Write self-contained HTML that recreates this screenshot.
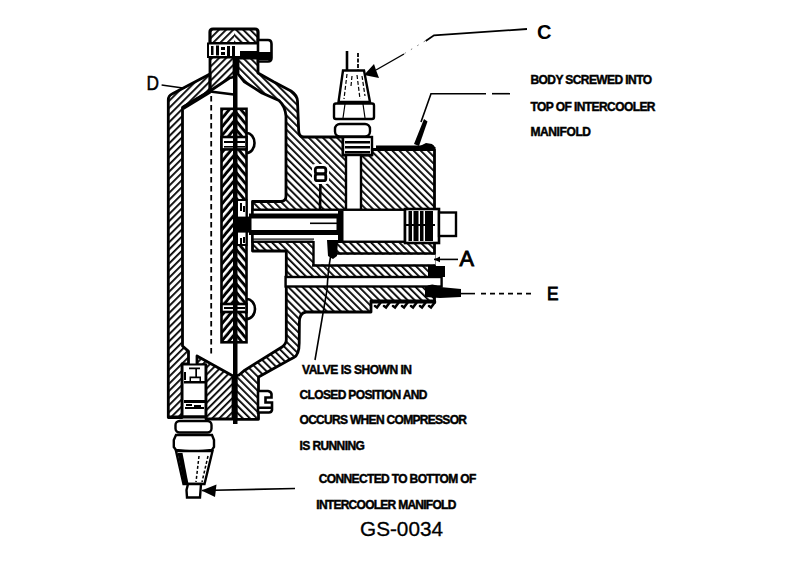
<!DOCTYPE html>
<html><head><meta charset="utf-8">
<style>
html,body{margin:0;padding:0;background:#fff;}
svg{display:block;}
text{font-family:"Liberation Sans",sans-serif;fill:#000;}
.t{font-weight:bold;font-size:12px;stroke:#000;stroke-width:0.45px;}
.L{font-weight:bold;stroke:#000;stroke-width:0.6px;}
</style></head>
<body>
<svg width="800" height="561" viewBox="0 0 800 561">
<defs>
<pattern id="hb" width="5" height="5" patternUnits="userSpaceOnUse" patternTransform="rotate(-45)">
<rect x="0" y="0" width="1.8" height="5" fill="#000"/></pattern>
<pattern id="hs" width="5" height="5" patternUnits="userSpaceOnUse" patternTransform="rotate(45)">
<rect x="0" y="0" width="1.8" height="5" fill="#000"/></pattern>
<pattern id="wb" width="5.5" height="5.5" patternUnits="userSpaceOnUse" patternTransform="rotate(-40)">
<rect x="0" y="0" width="5.5" height="5.5" fill="#000"/><rect x="0" y="0" width="2.6" height="5.5" fill="#fff"/></pattern>
<pattern id="ws" width="5.5" height="5.5" patternUnits="userSpaceOnUse" patternTransform="rotate(40)">
<rect x="0" y="0" width="5.5" height="5.5" fill="#000"/><rect x="0" y="0" width="2.6" height="5.5" fill="#fff"/></pattern>
</defs>
<rect width="800" height="561" fill="#fff"/>

<!-- ============ HOUSING ============ -->
<g stroke="#000" stroke-width="2.8" stroke-linejoin="round">
<!-- right wall + body (\ hatch) -->
<path d="M238,58 L258,58 L258,73 L274,82 L291,91 Q297,95 297.5,101 L298.7,131 Q299,137 304,137 L343,137 L343,155 L372,155 L372,149.5 L434.5,149.5 L434.5,301 L371,301 L371,312 L306,312 Q299.4,313 299.4,322 L299.2,343 Q299.2,355 293.8,357.5 L289,360 L258.5,377 L258.5,419.3 L236,419.3 L236,376 L239,375 L244.8,370.2 L282,347 Q286.3,344 286.3,339.8 L286.3,251 L252.5,251 L252.5,201.5 L281,201.5 Q286,201 286,196 L286,116 Q285,106 279,100.5 L262,93 L244,81.5 L238,74 Z" fill="url(#hb)"/>
<!-- left wall (/ hatch) -->
<path d="M168.3,417.5 L168.3,100 Q168.5,95.5 172,94 L210,74 L210,91 L182.5,107.5 L182.5,346 L188.5,351.4 L188.5,364 L182,364 L182,417.5 Z" fill="url(#hs)"/>
<!-- neck left -->
<path d="M210,57 L234,57 L234,77 L229.5,78 L210,91 Z" fill="url(#hs)"/>
<path d="M183,108 L210,91.5" stroke-width="4"/>
<!-- lower-left hatched block -->
<path d="M197,356 L233,376 L233,419 L206,419 L206,365 L197,365 Z" fill="url(#hs)"/>
<!-- cap -->
<path d="M210,43.5 L210,32 Q210,29 213,29 L234,29 L234,43.5 Z" fill="url(#hs)" stroke="none"/>
<path d="M234,29 L255,29 Q258,29 258,32 L258,43.5 L234,43.5 Z" fill="url(#hb)" stroke="none"/>
<path d="M210,43.5 L210,32 Q210,29 213,29 L255,29 Q258,29 258,32 L258,43.5 Z" fill="none" stroke-width="3.2"/>
</g>
<!-- fitting inside lower left -->
<rect x="182.5" y="364.5" width="23" height="52" fill="#fff" stroke="#000" stroke-width="2"/>
<path d="M168,417 L206,417" stroke="#000" stroke-width="3"/>
<g fill="#000">
<rect x="184" y="381" width="21" height="2.5"/>
<rect x="184" y="400" width="21" height="3"/>
<rect x="185" y="407" width="19" height="2"/>
<path d="M189,367.5 L200,367.5 L200,369.3 L197,369.3 L197,376.5 L201,376.5 L201,382 L199.5,382 L199.5,378.2 L191,378.2 L191,382 L189.5,382 L189.5,376.5 L195.3,376.5 L195.3,369.3 L189,369.3 Z"/>
<rect x="184" y="372" width="2" height="8"/>
<rect x="186" y="404" width="6" height="2"/><rect x="194" y="405" width="7" height="2"/>
</g>

<!-- thread band at top -->
<rect x="208" y="43.5" width="50" height="13.5" fill="#fff" stroke="#000" stroke-width="2"/>
<rect x="240" y="51" width="18" height="6" fill="#000"/>
<g fill="#000">
<rect x="211" y="46" width="2.5" height="9"/><rect x="216" y="45.5" width="3" height="10"/>
<rect x="221" y="47" width="4" height="3"/><rect x="221" y="52" width="4" height="3"/>
<rect x="227" y="46" width="3" height="10"/><rect x="232" y="46" width="3" height="10"/>
</g>
<path d="M258,40 L268,40 Q271.5,40 271.5,44 L271.5,58 Q271.5,61.5 268,61.5 L258,61.5 Z" fill="#fff" stroke="#000" stroke-width="2.6"/>
<rect x="259" y="52" width="12" height="8" fill="#000"/>

<!-- ============ BODY CHANNELS ============ -->
<g stroke="#000" stroke-width="2.4">
<rect x="343" y="137" width="29" height="18" fill="#fff"/>
<rect x="346" y="155" width="15" height="56" fill="#fff"/>
<rect x="252.5" y="209.75" width="152.5" height="32" fill="#fff"/>
</g>
<g fill="#000">
<rect x="345" y="141" width="25" height="2.5"/><rect x="345" y="146" width="25" height="2.5"/><rect x="345" y="151" width="25" height="2.5"/>
</g>
<!-- stem -->
<rect x="249" y="213.5" width="91" height="21.5" fill="#000"/>
<rect x="251.5" y="218.5" width="85" height="11.5" fill="#fff"/>
<rect x="252" y="238.5" width="62" height="1.2" fill="#000"/>
<!-- recess + A channel + E channel -->
<rect x="313.5" y="240" width="15" height="24.5" fill="#fff"/>
<rect x="328" y="254.5" width="107.5" height="10.25" fill="#fff"/>
<line x1="313.5" y1="241" x2="313.5" y2="265" stroke="#000" stroke-width="2.4"/>
<line x1="312" y1="265.5" x2="435" y2="265.5" stroke="#000" stroke-width="2.4"/>
<line x1="336" y1="253.5" x2="435" y2="253.5" stroke="#000" stroke-width="2.6"/>
<rect x="285.6" y="277" width="156" height="9.5" fill="#fff" stroke="#000" stroke-width="2.4"/>
<!-- valve blob -->
<path d="M327,240 L338,240 L337,256 L333,259 L328,256 Z" fill="#000"/>

<!-- valve spring element -->
<rect x="405" y="209" width="34" height="34" fill="#fff" stroke="#000" stroke-width="2.6"/>
<g fill="#000">
<rect x="408.5" y="211" width="3.5" height="30"/><rect x="413.5" y="211" width="5" height="30"/>
<rect x="420" y="211" width="3.5" height="30"/><rect x="425" y="211" width="8" height="30"/>
<rect x="405" y="224" width="30" height="2" />
</g>
<rect x="439" y="212.5" width="17" height="23.5" fill="#fff" stroke="#000" stroke-width="2.4"/>

<!-- right ends dark -->
<path d="M428,266 L445,266 L445,277 L428,277 Z" fill="#000"/>
<path d="M425,287 Q432,282 440,287 L461,289 L461,297 L440,298 L425,297 Z" fill="#000"/>
<!-- thread teeth under body -->
<g stroke="#000" stroke-width="2.6" fill="none" stroke-linecap="round">
<path d="M381,302 L377,307.5 L375,306"/>
<path d="M390,302 L386,307.5 L384,306"/>
<path d="M399,302 L395,307.5 L393,306"/>
<path d="M408,302 L404,307.5 L402,306"/>
<path d="M417,302 L413,307.5 L411,306"/>
<path d="M426,302 L422,307.5 L420,306"/>
<path d="M435,302 L431,307.5 L429,306"/>
</g>
<rect x="372" y="300" width="64" height="3.5" fill="#000"/>

<!-- ============ DIAPHRAGM STACK ============ -->
<g stroke="#000" stroke-width="2.6">
<rect x="221.5" y="108.8" width="13" height="233.5" fill="url(#ws)"/>
<rect x="234.5" y="108.8" width="12" height="233.5" fill="url(#wb)"/>
<rect x="221.5" y="137" width="25" height="12.4" fill="#fff"/>
<rect x="237" y="200" width="9.5" height="45" fill="#fff" stroke-width="2"/>
<rect x="221.5" y="304" width="25" height="8" fill="#fff"/>
<path d="M246.5,133 A8,10 0 0 1 246.5,153" fill="none"/>
<path d="M246.5,299 A8.5,10 0 0 1 246.5,319" fill="none"/>
</g>
<g fill="#000">
<rect x="224" y="141" width="21" height="2"/><rect x="224" y="146" width="21" height="1.6"/>
<rect x="224" y="307" width="21" height="2"/>
<rect x="240" y="203" width="2" height="8"/><rect x="243" y="206" width="2" height="6"/>
<rect x="240" y="238" width="2" height="6"/><rect x="243" y="237" width="2" height="6"/>
</g>
<rect x="236" y="216.6" width="13" height="16" fill="#000"/>
<!-- rod -->
<rect x="233" y="57" width="4.5" height="367" fill="#000"/>
<!-- dashed line -->
<line x1="211.2" y1="96" x2="211.2" y2="356" stroke="#000" stroke-width="1.8" stroke-dasharray="5.5,3.5"/>

<!-- ============ BOTTOM FITTING ============ -->
<g stroke="#000" stroke-width="2.4" fill="#fff">
<rect x="175.5" y="421" width="36" height="11.5" rx="4"/>
<path d="M173.8,440 L176,435 L212,435 L214,440 L214,447 L212,450 Q194,453 176,450 L173.8,447 Z"/>
<path d="M176,451 L212.5,451 L204.5,484 L183.5,484 Z"/>
<path d="M188,484 L201,484 L200,497.5 L187,497.5 L186.5,490 Z"/>
</g>
<path d="M177.5,453 L182.5,453 L188.5,484 L184,484 Z" fill="#000"/>
<path d="M199,456 L196,482 M208,456 L202,482" stroke="#000" stroke-width="1.5" stroke-dasharray="3,2" fill="none"/>
<!-- bottom bolt on right -->
<path d="M258,391 L268,391 Q271,391.5 271.5,394 L271.5,397.5 L265.5,397.5 L265.5,402.5 L272,402.5 L272,410 Q271.5,412.5 269,412.5 L258,412.5 Z" fill="#fff" stroke="#000" stroke-width="2.6"/>
<rect x="259" y="406.5" width="12" height="2.5" fill="#000"/>

<!-- ============ TOP SENSOR ============ -->
<g stroke="#000" stroke-width="2.4" fill="#fff">
<line x1="347" y1="51" x2="347" y2="71" stroke-width="2.6"/>
<line x1="358" y1="53" x2="358" y2="71" stroke-width="1.8" stroke-dasharray="4,1.5"/>
<path d="M343,70.5 L364,70.5 L370,102 L338.5,102 Z"/>
<rect x="334" y="103.5" width="40" height="15.5" rx="2"/>
<rect x="335" y="124" width="35" height="12.5" rx="5"/>
</g>
<g stroke="#000" stroke-width="1.2" fill="none">
<path d="M347,74 L344,99 M352,76 L351,86 M357,75 L360,99 M362,76 L365,96" stroke-dasharray="4,2"/>
<path d="M345,104 L343,118 M363,104 L365,118"/>
</g>
<rect x="338" y="211" width="5.5" height="32" fill="#000"/>
<rect x="310" y="222.5" width="27" height="1.6" fill="#000"/>

<!-- body top weld line -->
<path d="M376,148 L434,148" stroke="#000" stroke-width="5"/>
<path d="M420,146 L426,143 L432,144 L436,148 L420,149 Z" fill="#000"/>

<!-- ============ LEADERS ============ -->
<g stroke="#000" stroke-width="1.6" fill="none">
<path d="M527,29 L434,35.3 L425.7,41" stroke-width="1.8"/>
<path d="M425,41 L402,55" stroke-dasharray="1.5,6" stroke-width="1" stroke="#777"/>
<path d="M404,54 L376,70" stroke-width="1.4"/>
<path d="M486,93.7 L431,93.7 L421,122"/><path d="M492,93.7 L510,93.7"/>
<path d="M161.6,85 L184.6,88.3"/>
<path d="M210,91.5 L233.8,94.5" stroke-width="2.6"/>
<path d="M320.5,181 L320,209" stroke-width="2.6"/>
<path d="M331,254 Q328,270 327,290 L315,360"/>
<path d="M434,259.4 L458,259.4"/>
<path d="M442,293.6 L456,293.6"/>
<path d="M456,293.6 L475,293.6"/><path d="M481,293.6 L535,293.6" stroke-dasharray="5,4"/>
<path d="M202,490.5 L295,488.5"/>
</g>
<path d="M364,75 L374,64 L376,70 L379,78 Z" fill="#000"/>
<path d="M201.5,490.5 L216.5,484.5 L215,497 Z" fill="#000"/>
<path d="M424,119 L427.5,121.5 L419,146 L414,144 Z" fill="#000"/>
<path d="M434,259.4 L440,256.5 L440,262.3 Z" fill="#000"/>
<!-- B -->
<rect x="312" y="164" width="17" height="20" rx="3" fill="#fff"/>
<rect x="315.3" y="167.3" width="10.5" height="6.7" rx="2.5" fill="#fff" stroke="#000" stroke-width="2.8"/>
<rect x="315.3" y="174" width="10.5" height="6.7" rx="2" fill="#fff" stroke="#000" stroke-width="2.8"/>

<!-- ============ LABELS ============ -->
<text x="537" y="38.5" style="font-size:20px;font-weight:bold" textLength="14.5" lengthAdjust="spacingAndGlyphs">C</text>
<text x="146.5" y="90.4" style="font-size:20.5px;stroke:#000;stroke-width:0.5px" textLength="12.5" lengthAdjust="spacingAndGlyphs">D</text>
<text x="459.6" y="265.6" style="font-size:22px;stroke:#000;stroke-width:0.9px" textLength="14.5" lengthAdjust="spacingAndGlyphs">A</text>
<text x="547" y="299.8" style="font-size:18px;stroke:#000;stroke-width:0.9px" textLength="11.5" lengthAdjust="spacingAndGlyphs">E</text>
<text class="t" x="530.5" y="84.3" textLength="121.5" lengthAdjust="spacing">BODY SCREWED INTO</text>
<text class="t" x="530.5" y="110.8" textLength="125" lengthAdjust="spacing">TOP OF INTERCOOLER</text>
<text class="t" x="530.5" y="135.8" textLength="60.5" lengthAdjust="spacing">MANIFOLD</text>
<text class="t" x="302" y="374" textLength="110" lengthAdjust="spacing">VALVE IS SHOWN IN</text>
<text class="t" x="299.5" y="399" textLength="128" lengthAdjust="spacing">CLOSED POSITION AND</text>
<text class="t" x="299.5" y="424.4" textLength="167.5" lengthAdjust="spacing">OCCURS WHEN COMPRESSOR</text>
<text class="t" x="299.5" y="450" textLength="65.3" lengthAdjust="spacing">IS RUNNING</text>
<text class="t" x="318.8" y="483" textLength="157.5" lengthAdjust="spacing">CONNECTED TO BOTTOM OF</text>
<text class="t" x="316.3" y="508.8" textLength="140" lengthAdjust="spacing">INTERCOOLER MANIFOLD</text>
<text x="360" y="535.5" style="font-size:20px;stroke:#000;stroke-width:0.3px" textLength="83" lengthAdjust="spacingAndGlyphs">GS-0034</text>
</svg>
</body></html>
